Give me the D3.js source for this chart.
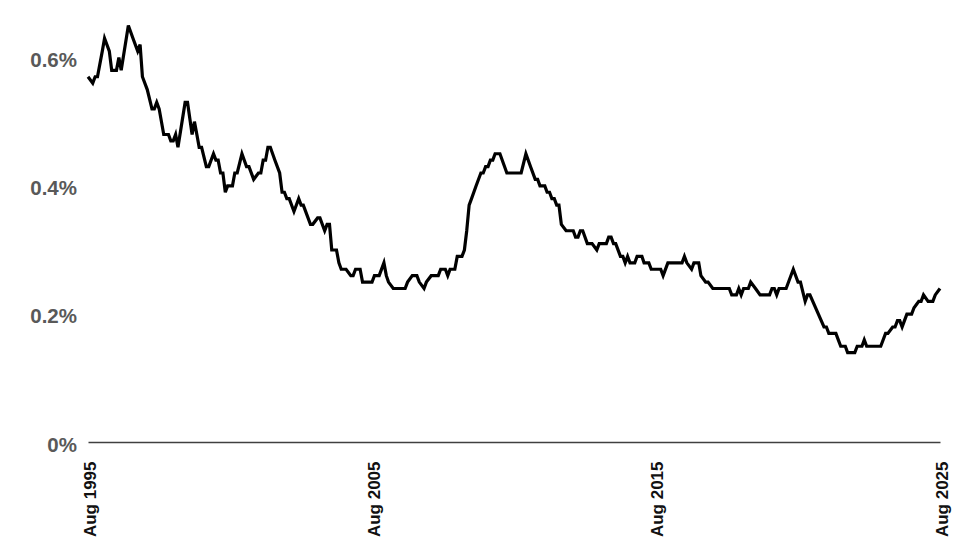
<!DOCTYPE html>
<html>
<head>
<meta charset="utf-8">
<script src="https://cdn.jsdelivr.net/npm/d3@7"></script>
<style>
  body { margin: 0; background: #fff; }
  .ylab { font-family: "Liberation Sans", Arial, sans-serif; font-weight: bold; font-size: 20.5px; fill: #595959; }
  .xlab { font-family: "Liberation Sans", Arial, sans-serif; font-weight: bold; font-size: 17px; fill: #111; }
</style>
</head>
<body>
<div id="chart"></div>

<script>

// monthly readings (per cent)
var months = [
  "1995-08","1995-10","1995-11","1995-12","1996-02","1996-03","1996-05","1996-06","1996-08","1996-09",
  "1996-10","1997-01","1997-03","1997-05","1997-06","1997-07","1997-09","1997-11","1997-12","1998-01",
  "1998-02","1998-04","1998-06","1998-07","1998-08","1998-09","1998-10","1999-01","1999-02","1999-04",
  "1999-05","1999-06","1999-07","1999-08","1999-10","1999-11","2000-01","2000-02","2000-03","2000-04",
  "2000-05","2000-06","2000-07","2000-09","2000-10","2000-11","2001-01","2001-03","2001-04","2001-06",
  "2001-08","2001-09","2001-10","2001-11","2001-12","2002-01","2002-03","2002-05","2002-06","2002-07",
  "2002-08","2002-09","2002-11","2003-01","2003-02","2003-03","2003-06","2003-07","2003-09","2003-10",
  "2003-12","2004-01","2004-02","2004-03","2004-05","2004-06","2004-07","2004-09","2004-11","2004-12",
  "2005-01","2005-03","2005-04","2005-08","2005-09","2005-11","2006-01","2006-02","2006-03","2006-05",
  "2006-10","2006-11","2007-01","2007-03","2007-04","2007-06","2007-07","2007-09","2007-12","2008-01",
  "2008-03","2008-04","2008-05","2008-07","2008-08","2008-10","2008-11","2008-12","2009-01","2009-02","2009-04",
  "2009-06","2009-07","2009-08","2009-09","2009-10","2009-11","2009-12","2010-02","2010-05","2010-11",
  "2011-01","2011-03","2011-05","2011-06","2011-07","2011-09","2011-10","2011-11","2011-12","2012-01",
  "2012-02","2012-03","2012-04","2012-06","2012-09","2012-10","2012-11","2012-12","2013-01","2013-03",
  "2013-05","2013-07","2013-08","2013-11","2013-12","2014-01","2014-02","2014-03","2014-05","2014-06",
  "2014-07","2014-08","2014-09","2014-11","2014-12","2015-02","2015-03","2015-05","2015-06","2015-10",
  "2015-11","2016-01","2016-07","2016-08","2016-09","2016-11","2016-12","2017-02","2017-03","2017-05",
  "2017-06","2017-08","2018-03","2018-04","2018-06","2018-07","2018-08","2018-09","2018-11","2018-12",
  "2019-02","2019-04","2019-08","2019-09","2019-10","2019-11","2019-12","2020-03","2020-06","2020-08",
  "2020-09","2020-11","2020-12","2021-01","2021-07","2021-08","2021-09","2021-12","2022-01","2022-02",
  "2022-04","2022-05","2022-08","2022-09","2022-11","2022-12","2023-01","2023-07","2023-09","2023-10",
  "2023-12","2024-01","2024-02","2024-03","2024-04","2024-05","2024-06","2024-08","2024-09","2024-11",
  "2024-12","2025-01","2025-03","2025-05","2025-06","2025-08"
];

var rates = [
  0.57,0.56,0.57,0.57,0.61,0.63,0.61,0.58,0.58,0.60,
  0.58,0.65,0.63,0.61,0.62,0.57,0.55,0.52,0.52,0.53,
  0.52,0.48,0.48,0.47,0.47,0.48,0.46,0.53,0.53,0.48,
  0.50,0.48,0.46,0.46,0.43,0.43,0.45,0.44,0.44,0.42,
  0.42,0.39,0.40,0.40,0.42,0.42,0.45,0.43,0.43,0.41,
  0.42,0.42,0.44,0.44,0.46,0.46,0.44,0.42,0.39,0.39,
  0.38,0.38,0.36,0.38,0.37,0.37,0.34,0.34,0.35,0.35,
  0.33,0.34,0.34,0.30,0.30,0.28,0.27,0.27,0.26,0.26,
  0.27,0.27,0.25,0.25,0.26,0.26,0.28,0.26,0.25,0.24,
  0.24,0.25,0.26,0.26,0.25,0.24,0.25,0.26,0.26,0.27,
  0.27,0.26,0.27,0.27,0.29,0.29,0.30,0.33,0.37,0.38,0.40,
  0.42,0.42,0.43,0.43,0.44,0.44,0.45,0.45,0.42,0.42,
  0.45,0.43,0.41,0.41,0.40,0.40,0.39,0.39,0.38,0.38,
  0.37,0.37,0.34,0.33,0.33,0.32,0.32,0.33,0.33,0.31,
  0.31,0.30,0.31,0.31,0.32,0.32,0.31,0.31,0.29,0.29,
  0.28,0.29,0.28,0.28,0.29,0.29,0.28,0.28,0.27,0.27,
  0.26,0.28,0.28,0.29,0.28,0.27,0.28,0.28,0.26,0.25,
  0.25,0.24,0.24,0.23,0.23,0.24,0.23,0.24,0.24,0.25,
  0.24,0.23,0.23,0.24,0.24,0.23,0.24,0.24,0.27,0.25,
  0.25,0.22,0.23,0.23,0.18,0.18,0.17,0.17,0.16,0.15,
  0.15,0.14,0.14,0.15,0.15,0.16,0.15,0.15,0.17,0.17,
  0.18,0.18,0.19,0.19,0.18,0.19,0.20,0.20,0.21,0.22,
  0.22,0.23,0.22,0.22,0.23,0.24
];

var yTicks = [0, 0.2, 0.4, 0.6];
var yTickLabels = ["0%", "0.2%", "0.4%", "0.6%"];
var xTicks = ["1995-08", "2005-08", "2015-08", "2025-08"];

var parseMonth = d3.timeParse("%Y-%m");

var data = months.map(function(m, i) {
  return { TimeStamp: parseMonth(m), Value: rates[i] };
});

// set the dimensions and margins of the graph
var margin = {top: 57.5, right: 32, bottom: 109.5, left: 88},
    width = 972 - margin.left - margin.right,
    height = 552 - margin.top - margin.bottom;

var svg = d3.select("#chart")
  .append("svg")
    .attr("width", width + margin.left + margin.right)
    .attr("height", height + margin.top + margin.bottom)
  .append("g")
    .attr("transform", "translate(" + margin.left + "," + margin.top + ")");

var x = d3.scaleTime()
  .domain([parseMonth(xTicks[0]), parseMonth(xTicks[xTicks.length - 1])])
  .range([0, width]);

var y = d3.scaleLinear()
  .domain([0, 0.6])
  .range([height, 0]);

// Y axis: labels only
var yAxis = svg.append("g")
  .call(d3.axisLeft(y)
    .tickValues(yTicks)
    .tickSize(0)
    .tickPadding(11)
    .tickFormat(function(d, i) { return yTickLabels[i]; }));
yAxis.select(".domain").remove();
yAxis.selectAll("text")
  .attr("class", "ylab")
  .attr("dy", "0.43em")
  .attr("fill", null);

// X axis: baseline + rotated labels
var xAxis = svg.append("g")
  .attr("transform", "translate(0," + (height - 0.5) + ")")
  .call(d3.axisBottom(x)
    .tickValues(xTicks.map(parseMonth))
    .tickSize(0)
    .tickFormat(d3.timeFormat("%b %Y")));
xAxis.select(".domain")
  .attr("stroke", "#404040")
  .attr("stroke-width", 1.3);
xAxis.selectAll("text")
  .attr("class", "xlab")
  .attr("fill", null)
  .attr("text-anchor", "end")
  .attr("dy", null)
  .attr("y", null)
  .attr("transform", "translate(7,19.5) rotate(-90)");

// Add the line
svg.append("path")
  .datum(data)
  .attr("fill", "none")
  .attr("stroke", "#000")
  .attr("stroke-width", 3.2)
  .attr("stroke-linejoin", "miter")
  .attr("d", d3.line()
    .x(function(d) { return x(d.TimeStamp) })
    .y(function(d) { return y(d.Value) })
  );

</script>
</body>
</html>
